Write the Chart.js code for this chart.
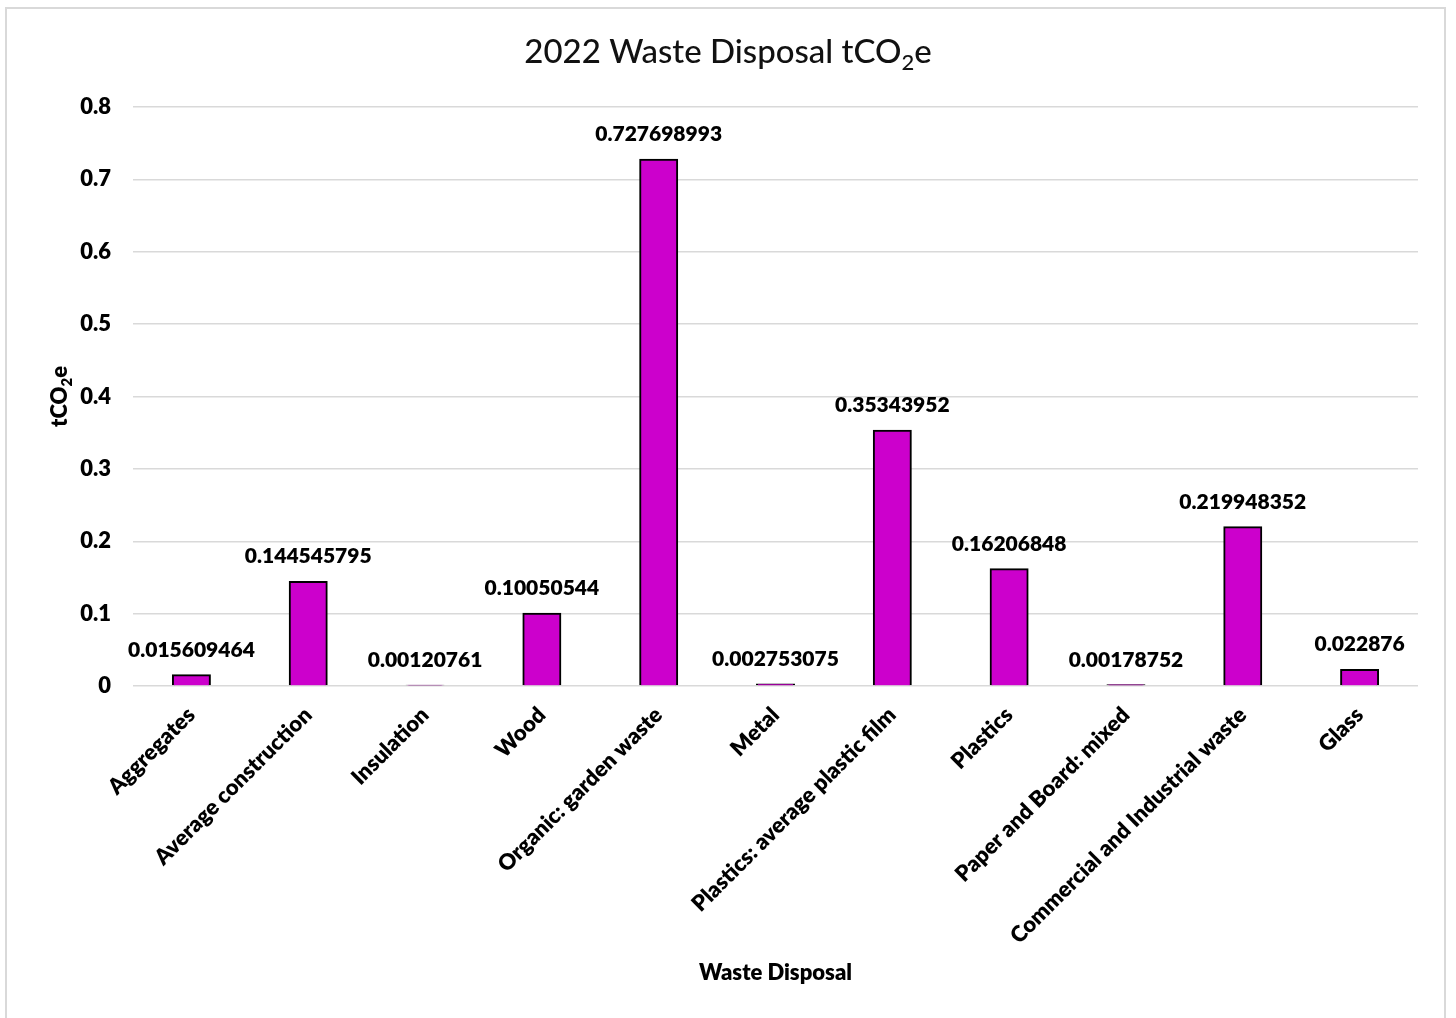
<!DOCTYPE html>
<html>
<head>
<meta charset="utf-8">
<title>2022 Waste Disposal tCO2e</title>
<script src="https://cdn.jsdelivr.net/npm/chart.js@4.4.1/dist/chart.umd.min.js"></script>
<style>
  html, body { margin: 0; padding: 0; background: #ffffff; overflow: hidden; }
  #frame {
    position: absolute; left: 5px; top: 7px; width: 1441px; height: 1100px;
    border: 2px solid #d9d9d9; box-sizing: border-box;
  }
  #wrap { position: absolute; left: 0; top: 0; width: 1456px; height: 1018px; }
</style>
</head>
<body>
<div id="frame"></div>
<div id="wrap"><canvas id="chart" width="1456" height="1018"></canvas></div>
<script>
// Waste streams and their 2022 disposal emissions (tCO2e)
const categories = [
  'Aggregates',
  'Average construction',
  'Insulation',
  'Wood',
  'Organic: garden waste',
  'Metal',
  'Plastics: average plastic film',
  'Plastics',
  'Paper and Board: mixed',
  'Commercial and Industrial waste',
  'Glass'
];
const emissions = [
  0.015609464,
  0.144545795,
  0.00120761,
  0.10050544,
  0.727698993,
  0.002753075,
  0.35343952,
  0.16206848,
  0.00178752,
  0.219948352,
  0.022876
];
const yMax = 0.8;
const yStep = 0.1;

const FONT = 'Lato, "Open Sans", sans-serif';
const BOLD = '800';
const INK = '#000000';

// Draws a run of text pieces, some of them as subscripts, starting at (x, y) baseline.
function drawRuns(ctx, runs, x, y, size, weight, align) {
  const subSize = Math.round(size * 0.66);
  const widths = runs.map(r => {
    ctx.font = weight + ' ' + (r.sub ? subSize : size) + 'px ' + FONT;
    return ctx.measureText(r.t).width;
  });
  const total = widths.reduce((a, b) => a + b, 0);
  let cx = align === 'center' ? x - total / 2 : x;
  ctx.textAlign = 'left';
  ctx.textBaseline = 'alphabetic';
  runs.forEach((r, i) => {
    ctx.font = weight + ' ' + (r.sub ? subSize : size) + 'px ' + FONT;
    ctx.fillText(r.t, cx, r.sub ? y + size * 0.22 : y);
    cx += widths[i];
  });
}

const textLayer = {
  id: 'textLayer',
  afterDatasetsDraw(chart) {
    const ctx = chart.ctx;
    const area = chart.chartArea;
    ctx.save();
    ctx.fillStyle = INK;

    // value labels above each bar
    const meta = chart.getDatasetMeta(0);
    ctx.font = BOLD + ' 21px ' + FONT;
    ctx.textAlign = 'center';
    ctx.textBaseline = 'alphabetic';
    meta.data.forEach((bar, i) => {
      ctx.fillText(String(emissions[i]), bar.x, bar.y - 18);
    });

    // chart title
    ctx.fillStyle = '#111111';
    drawRuns(ctx, [{t: '2022 Waste Disposal tCO'}, {t: '2', sub: true}, {t: 'e'}],
      chart.width / 2, 63, 33, '500', 'center');
    ctx.fillStyle = INK;

    // x axis title
    ctx.font = BOLD + ' 22px ' + FONT;
    ctx.textAlign = 'center';
    ctx.fillText('Waste Disposal', (area.left + area.right) / 2, 980);

    // y axis title, rotated
    ctx.translate(67, (area.top + area.bottom) / 2);
    ctx.rotate(-Math.PI / 2);
    drawRuns(ctx, [{t: 'tCO'}, {t: '2', sub: true}, {t: 'e'}], 0, 0, 22, BOLD, 'center');
    ctx.restore();
  }
};

new Chart(document.getElementById('chart'), {
  type: 'bar',
  data: {
    labels: categories,
    datasets: [{
      label: 'tCO2e',
      data: emissions,
      backgroundColor: '#cc00cc',
      borderColor: '#000000',
      borderWidth: 2,
      inflateAmount: 0.5,
      categoryPercentage: 1,
      barPercentage: 0.325
    }]
  },
  options: {
    responsive: false,
    animation: false,
    devicePixelRatio: 1,
    layout: { padding: { top: 107, right: 38, bottom: 0, left: 0 } },
    plugins: {
      legend: { display: false },
      title: { display: false },
      tooltip: { enabled: false }
    },
    scales: {
      x: {
        grid: { display: false, drawTicks: false },
        border: { display: false },
        ticks: {
          color: INK,
          font: { family: FONT, size: 22, weight: BOLD },
          maxRotation: 45,
          minRotation: 45,
          autoSkip: false,
          padding: 16
        },
        afterFit(scale) { scale.height = 332; }
      },
      y: {
        min: 0,
        max: yMax,
        grid: { color: '#d9d9d9', lineWidth: 1.5, drawTicks: false },
        border: { display: false },
        ticks: {
          stepSize: yStep,
          color: INK,
          font: { family: FONT, size: 22, weight: BOLD },
          padding: 22,
          callback: v => String(Math.round(v * 10) / 10)
        },
        afterFit(scale) { scale.width = 133; }
      }
    }
  },
  plugins: [textLayer]
});
</script>
</body>
</html>
